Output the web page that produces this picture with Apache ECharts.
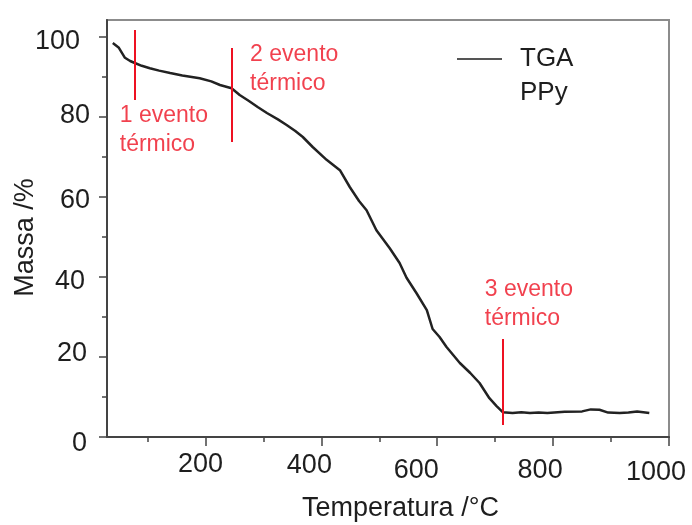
<!DOCTYPE html>
<html>
<head>
<meta charset="utf-8">
<script src="https://cdn.jsdelivr.net/npm/echarts@6/dist/echarts.min.js"></script>
<style>html,body{margin:0;padding:0;background:#fff;}#c{width:692px;height:525px;}</style>
</head>
<body>
<div id="c"></div>
<script>
// ---- data ----
const tempC = [40, 50, 61, 70, 78, 90, 104, 120, 139, 160, 190, 210, 225, 245, 259, 275, 290, 306, 325, 340, 355, 368, 385, 409, 432, 449, 465, 478, 495, 518, 535, 547, 564, 582, 592, 604, 616, 639, 657, 673, 690, 702, 713, 730, 745, 760, 775, 790, 820, 850, 865, 880, 895, 915, 930, 945, 966];
const massPct = [98.5, 97.4, 94.8, 94.0, 93.5, 92.8, 92.2, 91.6, 91.0, 90.4, 89.7, 88.9, 88.0, 87.2, 85.5, 84.0, 82.5, 81.0, 79.4, 78.0, 76.5, 75.0, 72.5, 69.3, 66.7, 62.5, 59.0, 56.7, 51.7, 47.2, 43.5, 39.8, 36.0, 31.7, 27.0, 25.0, 22.5, 18.5, 16.0, 13.5, 9.7, 7.8, 6.2, 6.0, 6.2, 6.0, 6.1, 6.0, 6.3, 6.4, 6.9, 6.8, 6.1, 6.0, 6.1, 6.4, 6.0];

const eventT = [78, 245.5, 713];
const eventTop = [101.75, 97.25, 24.5];
const eventBottom = [84.25, 73.75, 3];

const annoT = [52, 277, 682];
const annoM = [76.75, 92, 33.25];
const annoText = ['1 evento\ntérmico', '2 evento\ntérmico', '3 evento\ntérmico'];

const xMajor = [200, 400, 600, 800, 1000];
const xMinor = [100, 300, 500, 700, 900];
const yMajor = [0, 20, 40, 60, 80, 100];
const yMinor = [10, 30, 50, 70, 90];

const seriesName = 'TGA PPy';
const legendLines = ['TGA', 'PPy'];
const xTitle = 'Temperatura /°C';
const yTitle = 'Massa /%';

// ---- per-label fine placement (styles) ----
const xPad = {200: [0, 10, 0, 0], 400: [1, 24, 0, 0], 600: [6, 42, 0, 0], 800: [6, 26, 0, 0], 1000: [8, 26, 0, 0]};
const yPad = {0: [14, 3, 0, 0], 20: [0, 3, 6, 0], 40: [10, 5, 0, 0], 60: [8, 0, 0, 0], 80: [0, 0, 2, 0], 100: [10, 10, 0, 0]};
const FONT = '"Liberation Sans", Arial, sans-serif';
const txt = '#1e1e1e';
const red = '#ee1122';
const axisCol = '#444';

const xRich = {}; xMajor.forEach(v => { xRich['x' + v] = {padding: xPad[v], fontSize: 27, fontFamily: FONT, color: txt}; });
const yRich = {}; yMajor.forEach(v => { yRich['y' + v] = {padding: yPad[v], fontSize: 27, fontFamily: FONT, color: txt}; });

const chart = echarts.init(document.getElementById('c'), null, {renderer: 'canvas'});
chart.setOption({
  animation: false,
  backgroundColor: '#fff',
  textStyle: {fontFamily: FONT},
  grid: {left: 107, right: 23, top: 20, bottom: 88, show: true, borderColor: '#8c8c8c', borderWidth: 2, backgroundColor: 'transparent', containLabel: false, outerBoundsMode: 'none'},
  legend: {
    left: 457, top: 8, padding: 0,
    itemWidth: 45, itemHeight: 2,
    data: [{name: seriesName, icon: 'rect'}],
    itemStyle: {color: '#555'},
    formatter: () => ' \n' + legendLines.join('\n'),
    textStyle: {fontSize: 26, lineHeight: 34, color: txt, fontFamily: FONT, padding: [0, 0, 0, 13]}
  },
  xAxis: [{
    type: 'value', min: 30, max: 1000,
    name: xTitle, nameLocation: 'middle', nameGap: 58, nameMoveOverlap: false,
    nameTextStyle: {fontSize: 27, color: txt, fontFamily: FONT, padding: [0, 0, 0, 25]},
    axisLine: {show: true, lineStyle: {color: axisCol, width: 2}},
    axisTick: {show: true, customValues: xMajor, length: 9, lineStyle: {color: axisCol, width: 1.5}},
    axisLabel: {customValues: xMajor, margin: 14, formatter: v => '{x' + v + '|' + v + '}', rich: xRich},
    splitLine: {show: false}
  }, {
    type: 'value', min: 30, max: 1000, position: 'bottom',
    axisLine: {show: false},
    axisTick: {show: true, customValues: xMinor, length: 5, lineStyle: {color: axisCol, width: 1.5}},
    axisLabel: {show: false},
    splitLine: {show: false}
  }],
  yAxis: [{
    type: 'value', min: 0, max: 104.25,
    name: yTitle, nameLocation: 'middle', nameGap: 68, nameRotate: 90, nameMoveOverlap: false,
    nameTextStyle: {fontSize: 27, color: txt, fontFamily: FONT, padding: [0, 18, 0, 0]},
    axisLine: {show: true, lineStyle: {color: axisCol, width: 2}},
    axisTick: {show: true, customValues: yMajor, length: 8, lineStyle: {color: axisCol, width: 1.5}},
    axisLabel: {customValues: yMajor, margin: 17, formatter: v => '{y' + v + '|' + v + '}', rich: yRich},
    splitLine: {show: false}
  }, {
    type: 'value', min: 0, max: 104.25, position: 'left',
    axisLine: {show: false},
    axisTick: {show: true, customValues: yMinor, length: 5, lineStyle: {color: axisCol, width: 1.5}},
    axisLabel: {show: false},
    splitLine: {show: false}
  }],
  series: [{
    name: seriesName, type: 'line', xAxisIndex: 0, yAxisIndex: 0,
    data: tempC.map((t, i) => [t, massPct[i]]),
    symbol: 'none', lineStyle: {color: '#222', width: 2.5}, itemStyle: {color: '#555'},
    markLine: {
      silent: true, symbol: ['none', 'none'], label: {show: false},
      lineStyle: {color: red, width: 2, type: 'solid'},
      data: eventT.map((t, i) => [{coord: [t, eventTop[i]]}, {coord: [t, eventBottom[i]]}])
    },
    z: 3
  }, {
    name: 'annotations', type: 'scatter', xAxisIndex: 0, yAxisIndex: 0,
    symbolSize: 0, silent: true,
    data: annoT.map((t, i) => ({value: [t, annoM[i]], label: {formatter: annoText[i]}})),
    label: {show: true, position: [0, 0], align: 'left', verticalAlign: 'middle', fontSize: 23, lineHeight: 29, color: red, fontFamily: FONT},
    z: 4
  }]
});
</script>
</body>
</html>
